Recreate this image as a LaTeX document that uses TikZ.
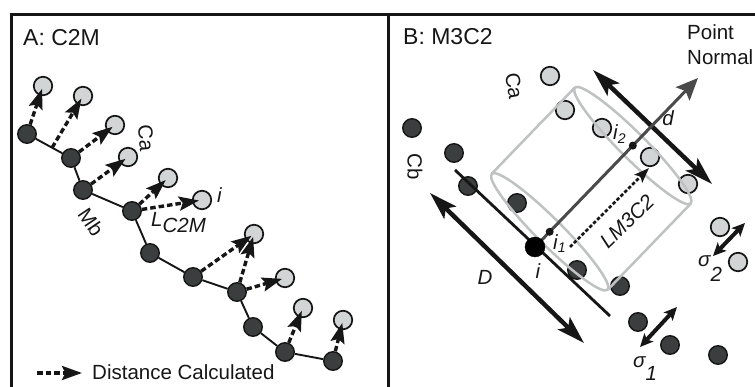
\documentclass[tikz,border=0pt]{standalone}
\usepackage{fontspec}
\setmainfont{Liberation Sans}
\usetikzlibrary{arrows.meta,calc}
\definecolor{ink}{HTML}{161616}
\definecolor{dkfill}{HTML}{3B3E3E}
\definecolor{ltfill}{HTML}{D2D5D5}
\definecolor{cylgrey}{HTML}{BEC2C2}
\definecolor{normgrey}{HTML}{4A4A4A}
\tikzset{
  dk/.style={circle, draw=ink, line width=1.4pt, fill=dkfill, minimum size=18.5pt, inner sep=0pt},
  lt/.style={circle, draw=ink, line width=1.7pt, fill=ltfill, minimum size=18.5pt, inner sep=0pt},
  bond/.style={draw=ink, line width=1.9pt},
  dist/.style={draw=ink, line width=3.4pt, dash pattern=on 5.5pt off 3pt,
    -{Stealth[length=20pt,width=14pt,inset=3.5pt]}, shorten >=3pt},
  frame/.style={draw=ink, line width=3pt},
  lbl/.style={text=ink, inner sep=0pt, font=\fontsize{20.5}{24}\selectfont},
  ttl/.style={text=ink, inner sep=0pt, font=\fontsize{23}{27}\selectfont},
  cyl/.style={draw=cylgrey, line width=2.5pt},
  surf/.style={draw=ink, line width=2.8pt},
  bigarrow/.style={draw=ink, line width=4.5pt,
    {Stealth[length=28pt,width=17pt,inset=6pt]}-{Stealth[length=28pt,width=17pt,inset=6pt]}},
  sigarrow/.style={draw=ink, line width=4pt,
    {Stealth[length=13pt,width=12pt,inset=3pt]}-{Stealth[length=13pt,width=12pt,inset=3pt]}},
  normal/.style={draw=normgrey, line width=3pt, -{Stealth[length=22pt,width=19pt,inset=4pt]}},
  m3c2/.style={draw=ink, line width=2.6pt, dash pattern=on 3.5pt off 2pt,
    -{Stealth[length=15pt,width=11pt,inset=3pt]}},
  smalldot/.style={circle, fill=ink, minimum size=8pt, inner sep=0pt},
  bigdot/.style={circle, fill=black, draw=black, minimum size=20pt, inner sep=0pt},
}
\begin{document}
\begin{tikzpicture}[x=1pt, y=1pt, line join=round]
\useasboundingbox (0,0) rectangle (755,-387);

% panel frames
\draw[frame] (9.5,-15) -- (755,-15);
\draw[frame] (11,-13.5) -- (11,-387);
\draw[frame] (388,-13.5) -- (388,-387);

% ---------------- panel A: cloud to mesh ----------------
\node[ttl, anchor=base west] (tA) at (23,-46) {A: C2M};

% mesh vertices
\node[dk] (n1) at (27,-134) {};
\node[dk] (n2) at (71,-158) {};
\node[dk] (n3) at (83,-190) {};
\node[dk] (n4) at (132,-211) {};
\node[dk] (n5) at (150,-253) {};
\node[dk] (n6) at (193,-277) {};
\node[dk] (n7) at (237,-292) {};
\node[dk] (n8) at (253,-327) {};
\node[dk] (n9) at (285,-352) {};
\node[dk] (n10) at (333,-361) {};
\draw[bond] (n1) -- (n2);
\draw[bond] (n2) -- (n3);
\draw[bond] (n3) -- (n4);
\draw[bond] (n4) -- (n5);
\draw[bond] (n5) -- (n6);
\draw[bond] (n6) -- (n7);
\draw[bond] (n7) -- (n8);
\draw[bond] (n8) -- (n9);
\draw[bond] (n9) -- (n10);

% cloud points
\node[lt] (l1) at (43,-86) {};
\node[lt] (l2) at (83,-96) {};
\node[lt] (l3) at (115,-125) {};
\node[lt] (l4) at (128,-157) {};
\node[lt] (l5) at (168,-178) {};
\node[lt] (l6) at (202,-200) {};
\node[lt] (l7) at (254,-234) {};
\node[lt] (l8) at (285,-278) {};
\node[lt] (l9) at (303,-308) {};
\node[lt] (l10) at (343,-320) {};

% distances
\coordinate (e12) at ($(n1.center)!0.57!(n2.center)$);
\draw[dist] (n1) -- (l1.center);
\draw[dist] (e12) -- (l2.center);
\draw[dist] (n2) -- (l3.center);
\draw[dist] (n3) -- (l4.center);
\draw[dist] (n4) -- (l5.center);
\draw[dist] (n4) -- (l6.center);
\draw[dist] (n6) -- (l7.center);
\draw[dist] (n7) -- (l7.center);
\draw[dist] (n7) -- (l8.center);
\draw[dist] (n9) -- (l9.center);
\draw[dist] (n10) -- (l10.center);

% labels
\node[lbl, rotate=-85] (caA) at (146,-138) {Ca};
\node[lbl, rotate=-56] (mbA) at (91,-222) {Mb};
\node[lbl, anchor=base west] (iA) at (217,-203) {\itshape i};
\node[lbl, anchor=base west] (lc2m) at (151,-227) {\itshape L\raisebox{-6pt}{C2M}};

% legend
\coordinate (legs) at (37,-373);
\coordinate (lege) at (82,-373);
\draw[dist, shorten >=0pt] (legs) -- (lege);
\node[lbl, anchor=base west] (legt) at (92,-379) {Distance Calculated};

% ---------------- panel B: M3C2 ----------------
\node[ttl, anchor=base west] (tB) at (403,-45) {B: M3C2};
\node[lbl, anchor=base west] (pt1) at (687,-40) {Point};
\node[lbl, anchor=base west] (pt2) at (687,-65) {Normal};

% second cloud
\node[dk] (d1) at (412,-128) {};
\node[dk] (d2) at (454,-153) {};
\node[dk] (d3) at (468,-186) {};
\node[dk] (d4) at (517,-203) {};
\node[dk] (d5) at (577,-270) {};
\node[dk] (d6) at (620,-286) {};
\node[dk] (d7) at (638,-322) {};
\node[dk] (d8) at (670,-345) {};
\node[dk] (d9) at (718,-355) {};

% first cloud
\node[lt] (a1) at (550,-76) {};
\node[lt] (a2) at (565,-110) {};
\node[lt] (a3) at (602,-128) {};
\node[lt] (a4) at (650,-157) {};
\node[lt] (a5) at (688,-184) {};
\node[lt] (a6) at (720,-227) {};
\node[lt] (a7) at (738,-262) {};

% normal and the projection cylinder
\coordinate (ipt) at (535,-247);
\coordinate (ntip) at (698,-78);
\coordinate (c1) at ($(ipt)!0.09!(ntip)$);
\coordinate (c2) at ($(ipt)!0.6!(ntip)$);
\draw[cyl, rotate around={-45:(c1)}] (c1) ellipse [x radius=82pt, y radius=13pt];
\draw[cyl, rotate around={-45:(c2)}] (c2) ellipse [x radius=82pt, y radius=13pt];
\coordinate (c1a) at ($(c1)+(-58,58)$);
\coordinate (c1b) at ($(c1)+(58,-58)$);
\coordinate (c2a) at ($(c2)+(-58,58)$);
\coordinate (c2b) at ($(c2)+(58,-58)$);
\draw[cyl] (c1a) -- (c2a);
\draw[cyl] (c1b) -- (c2b);

% local surface and scales
\coordinate (s1) at (455,-170);
\coordinate (s2) at (610,-316);
\draw[surf] (s1) -- (s2);
\coordinate (Dt) at (430,-193);
\coordinate (Db) at (584,-343);
\draw[bigarrow] (Dt) -- (Db);
\coordinate (dt) at (593,-70);
\coordinate (db) at (712,-184);
\draw[bigarrow] (dt) -- (db);
\draw[normal] (ipt) -- (ntip);

% projected distance
\coordinate (ms) at (570,-247);
\coordinate (me) at (649,-168);
\draw[m3c2] (ms) -- (me);

% roughness
\coordinate (sg2a) at (745,-223);
\coordinate (sg2b) at (713,-256);
\draw[sigarrow] (sg2a) -- (sg2b);
\coordinate (sg1a) at (677,-307);
\coordinate (sg1b) at (640,-347);
\draw[sigarrow] (sg1a) -- (sg1b);

% core point and cylinder centres
\node[smalldot] (i1) at (c1) {};
\node[smalldot] (i2) at (c2) {};
\node[bigdot] (ib) at (ipt) {};

% labels
\node[lbl, rotate=-80] (caB) at (514,-86) {Ca};
\node[lbl, rotate=-90] (cbB) at (415,-167) {Cb};
\node[lbl] (dlab) at (668,-118) {\itshape d};
\node[lbl] (Dlab) at (485,-277) {\itshape D};
\node[lbl] (ilab) at (538,-271) {\itshape i};
\node[lbl, anchor=base west] (i1lab) at (553,-250) {\itshape i\raisebox{-3pt}{\fontsize{14}{14}\selectfont 1}};
\node[lbl, anchor=base west] (i2lab) at (613,-140) {\itshape i\raisebox{-4pt}{\fontsize{14}{14}\selectfont 2}};
\node[lbl, rotate=44] (lm3c2) at (627,-221) {\itshape LM3C2};
\node[lbl, anchor=base west] (sig2) at (698,-267) {\itshape σ\raisebox{-15pt}{2}};
\node[lbl, anchor=base west] (sig1) at (633,-367) {\itshape σ\raisebox{-13pt}{1}};
\end{tikzpicture}
\end{document}
